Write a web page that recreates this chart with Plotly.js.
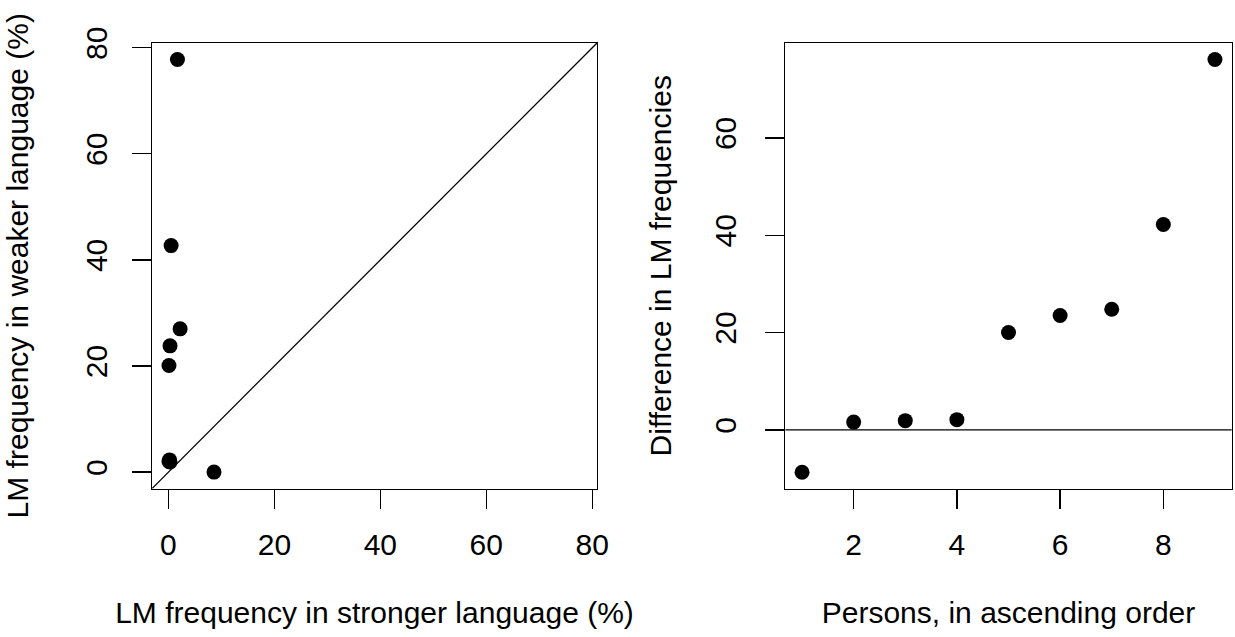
<!DOCTYPE html>
<html>
<head>
<meta charset="utf-8">
<script src="https://cdn.plot.ly/plotly-3.0.1.min.js"></script>
<style>html,body{margin:0;padding:0;background:#fff;}#chart{width:1235px;height:637px;}</style>
</head>
<body>
<div id="chart"></div>
<script>
// Left panel: each person's LM frequency (%)
const strongerLang = [8.6, 0.3, 0.1, 0.2, 0.1, 0.3, 2.2, 0.5, 1.7];
const weakerLang   = [0.0, 1.9, 2.0, 2.3, 20.1, 23.8, 27.0, 42.7, 77.8];
// Right panel: persons in ascending order of difference
const persons      = [1, 2, 3, 4, 5, 6, 7, 8, 9];
const difference   = [-8.7, 1.6, 1.9, 2.1, 20.0, 23.5, 24.8, 42.2, 76.1];
const leftTicks    = [0, 20, 40, 60, 80];
const rightYTicks  = [0, 20, 40, 60];
const rightXTicks  = [2, 4, 6, 8];

const FONT = 'Liberation Sans, Arial, sans-serif';
const FS = 30;
const leftRange = [-3.1, 80.9];

const traces = [
  {x: leftRange, y: leftRange, mode: 'lines', line: {color: '#000', width: 1.3},
   xaxis: 'x', yaxis: 'y', hoverinfo: 'skip', cliponaxis: true},
  {x: strongerLang, y: weakerLang, mode: 'markers', marker: {color: '#000', size: 15},
   xaxis: 'x', yaxis: 'y'},
  {x: persons, y: difference, mode: 'markers', marker: {color: '#000', size: 15},
   xaxis: 'x2', yaxis: 'y2'}
];

const axBase = {
  showline: true, mirror: true, linecolor: '#000', linewidth: 1.3,
  showgrid: false, zeroline: false, ticks: 'outside', ticklen: 19,
  tickwidth: 1.3, tickcolor: '#000',
  tickfont: {family: FONT, size: FS, color: '#000'}
};
const titleFont = {family: FONT, size: FS, color: '#000'};

const layout = {
  width: 1235, height: 637,
  margin: {l: 0, r: 0, t: 0, b: 0},
  paper_bgcolor: '#fff', plot_bgcolor: '#fff',
  showlegend: false,
  font: {family: FONT, color: '#000'},
  xaxis: Object.assign({}, axBase, {
    domain: [0.1231, 0.4834], range: leftRange, tickmode: 'array', tickvals: leftTicks,
    anchor: 'y', ticklabelstandoff: 10,
    title: {text: 'LM frequency in stronger language (%)', font: titleFont, standoff: 42}
  }),
  yaxis: Object.assign({}, axBase, {
    domain: [0.2331, 0.9325], range: leftRange, tickmode: 'array', tickvals: leftTicks,
    tickangle: -90, anchor: 'x', ticklabelstandoff: 13,
    title: {text: 'LM frequency in weaker language (%)', font: titleFont, standoff: 42}
  }),
  xaxis2: Object.assign({}, axBase, {
    domain: [0.6359, 0.9973], range: [0.676, 9.324], tickmode: 'array', tickvals: rightXTicks,
    anchor: 'y2', ticklabelstandoff: 10,
    title: {text: 'Persons, in ascending order', font: titleFont, standoff: 42}
  }),
  yaxis2: Object.assign({}, axBase, {
    domain: [0.2331, 0.9325], range: [-12.05, 79.5], tickmode: 'array', tickvals: rightYTicks,
    tickangle: -90, anchor: 'x2', ticklabelstandoff: 17,
    title: {text: 'Difference in LM frequencies', font: titleFont, standoff: 28}
  }),
  shapes: [
    {type: 'line', xref: 'x2 domain', yref: 'y2', x0: 0, x1: 1, y0: 0, y1: 0,
     line: {color: '#000', width: 1.3}}
  ]
};

Plotly.newPlot('chart', traces, layout, {displayModeBar: false, staticPlot: true});
</script>
</body>
</html>
